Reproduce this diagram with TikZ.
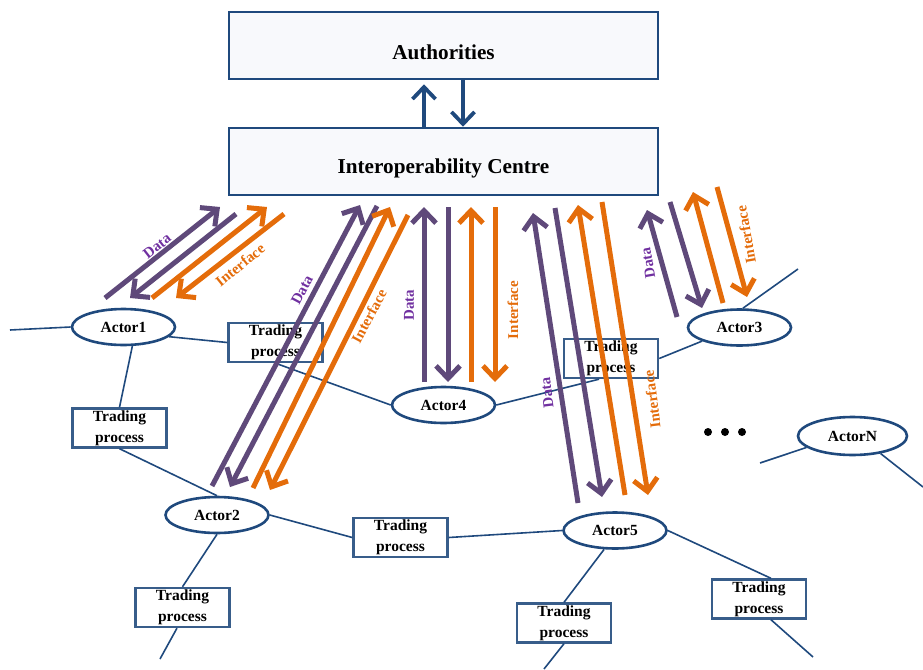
\documentclass[tikz,border=0pt]{standalone}
\usepackage{fontspec}
\setmainfont{Liberation Serif}
\usepackage{xcolor}
\usetikzlibrary{shapes.geometric, arrows.meta}

\definecolor{boxblue}{HTML}{1F497D}
\definecolor{tradeblue}{HTML}{385D8A}
\definecolor{boxfill}{HTML}{F8F9FC}
\definecolor{datapurple}{HTML}{5F497A}
\definecolor{labelpurple}{HTML}{7030A0}
\definecolor{ifaceorange}{HTML}{E46C0A}

\begin{document}
\begin{tikzpicture}[x=1pt, y=-1pt,
  topbox/.style={draw=boxblue, line width=2.6pt, fill=boxfill, minimum width=429pt,
    minimum height=67pt, inner sep=0pt},
  topfont/.style={font=\fontsize{21.2}{24}\selectfont\bfseries},
  actor/.style={ellipse, draw=boxblue, line width=2.6pt, fill=white, minimum width=103pt,
    minimum height=36pt, inner sep=0pt, font=\fontsize{15.5}{19}\selectfont\bfseries},
  trade/.style={draw=tradeblue, line width=2.4pt, fill=white, minimum width=94pt,
    minimum height=39pt, inner sep=0pt, align=center,
    font=\fontsize{15.5}{21}\selectfont\bfseries},
  link/.style={draw=boxblue, line width=1.6pt},
  updown/.style={draw=boxblue, line width=3.8pt, -{Straight Barb[length=12pt, width=23pt]}},
  dat/.style={draw=datapurple, line width=5pt, -{Straight Barb[length=12.5pt, width=24pt]}},
  ifc/.style={draw=ifaceorange, line width=5pt, -{Straight Barb[length=12.5pt, width=24pt]}},
  datlbl/.style={text=labelpurple, font=\fontsize{15}{17}\selectfont\bfseries},
  ifclbl/.style={text=ifaceorange, font=\fontsize{15}{17}\selectfont\bfseries}]

  \useasboundingbox (0,0) rectangle (923,669);

  % Authorities and centre
  \node[topbox, label={[topfont, yshift=-6.5pt]center:Authorities}] (AU) at (443.5,45.5) {};
  \node[topbox, label={[topfont, yshift=-7pt]center:Interoperability Centre}] (IC) at (443.5,161.5) {};
  \draw[updown] ([xshift=-19.5pt]IC.north) -- ([xshift=-19.5pt,yshift=-4pt]AU.south);
  \draw[updown] ([xshift=19.5pt]AU.south) -- ([xshift=19.5pt]IC.north);

  % loose ends of the network
  \coordinate (e1) at (10,330);
  \coordinate (e2) at (160,659);
  \coordinate (e3) at (544,669);
  \coordinate (e4) at (813,657);
  \coordinate (e5) at (798,269);
  \coordinate (e6) at (760,463);
  \coordinate (e7) at (923,487);

  % Actors
  \node[actor] (A1) at (123.5,327) {Actor1};
  \node[actor] (A2) at (217,515) {Actor2};
  \node[actor] (A3) at (739.5,327.5) {Actor3};
  \node[actor] (A4) at (443.5,405) {Actor4};
  \node[actor] (A5) at (615,530.5) {Actor5};
  \node[actor, minimum width=109pt, minimum height=38pt] (AN) at (852.5,436) {ActorN};

  % Trading processes
  \node[trade] (TP1) at (275.5,342.5) {Trading\\process};
  \node[trade] (TP2) at (119.5,428) {Trading\\process};
  \node[trade] (TP3) at (611,358.5) {Trading\\process};
  \node[trade] (TP4) at (400.5,537.5) {Trading\\process};
  \node[trade] (TP5) at (182.5,607.5) {Trading\\process};
  \node[trade] (TP6) at (564,623) {Trading\\process};
  \node[trade] (TP7) at (759,599) {Trading\\process};

  % Links
  \draw[link] (e1) -- (A1.west);
  \draw[link] (A1.-12) -- (TP1.west);
  \draw[link] (A1.-65) -- (TP2.north);
  \draw[link] (TP1.south) -- (A4.west);
  \draw[link] (TP2.south) -- (A2.north);
  \draw[link] (A2.east) -- (TP4.west);
  \draw[link] (TP4.east) -- (A5.west);
  \draw[link] (A2.south) -- (TP5.north);
  \draw[link] (TP5.-105) -- (e2);
  \draw[link] (A5.-120) -- (TP6.north);
  \draw[link] (TP6.south) -- (e3);
  \draw[link] (A5.east) -- (TP7.60);
  \draw[link] (TP7.-60) -- (e4);
  \draw[link] (A4.east) -- (TP3.-120);
  \draw[link] (TP3.east) -- (A3.200);
  \draw[link] (A3.80) -- (e5);
  \draw[link] (e6) -- (AN.194);
  \draw[link] (AN.-32) -- (e7);

  % dots for the remaining actors
  \foreach \x in {708,725,742}
    \fill (\x,432) circle (4pt);

  % Data / Interface to Actor1
  \draw[dat] (105,298) -- (220,207);
  \draw[dat] (236,214) -- (130,298);
  \draw[ifc] (152,298) -- (267,207);
  \draw[ifc] (284,214) -- (176,298);
  \node[datlbl, rotate=38] (d1) at (157,246) {Data};
  \node[ifclbl, rotate=39] (i1) at (240,265) {Interface};

  % Actor2
  \draw[dat] (212,486) -- (360,205);
  \draw[dat] (377,206) -- (230,487);
  \draw[ifc] (253,488) -- (390,207);
  \draw[ifc] (408,215) -- (270,490);
  \node[datlbl, rotate=62] (d2) at (302,290) {Data};
  \node[ifclbl, rotate=62] (i2) at (369,316) {Interface};

  % Actor4
  \draw[dat] (424,382) -- (424,207);
  \draw[dat] (448,207) -- (448,382);
  \draw[ifc] (471,382) -- (471,207);
  \draw[ifc] (495,207) -- (495,382);
  \node[datlbl, rotate=90] (d4) at (409,305) {Data};
  \node[ifclbl, rotate=90] (i4) at (513,310) {Interface};

  % Actor5
  \draw[dat] (578,503) -- (533,213);
  \draw[dat] (555,208) -- (602,497);
  \draw[ifc] (625,495) -- (578,205);
  \draw[ifc] (602,202) -- (648,495);
  \node[datlbl, rotate=97] (d5) at (547,393) {Data};
  \node[ifclbl, rotate=97] (i5) at (652,399) {Interface};

  % Actor3
  \draw[dat] (677,317) -- (647,210);
  \draw[dat] (670,202) -- (702,308);
  \draw[ifc] (723,303) -- (693,192);
  \draw[ifc] (717,187) -- (747,297);
  \node[datlbl, rotate=100] (d3) at (648,263) {Data};
  \node[ifclbl, rotate=100] (i3) at (746,235) {Interface};
\end{tikzpicture}
\end{document}
